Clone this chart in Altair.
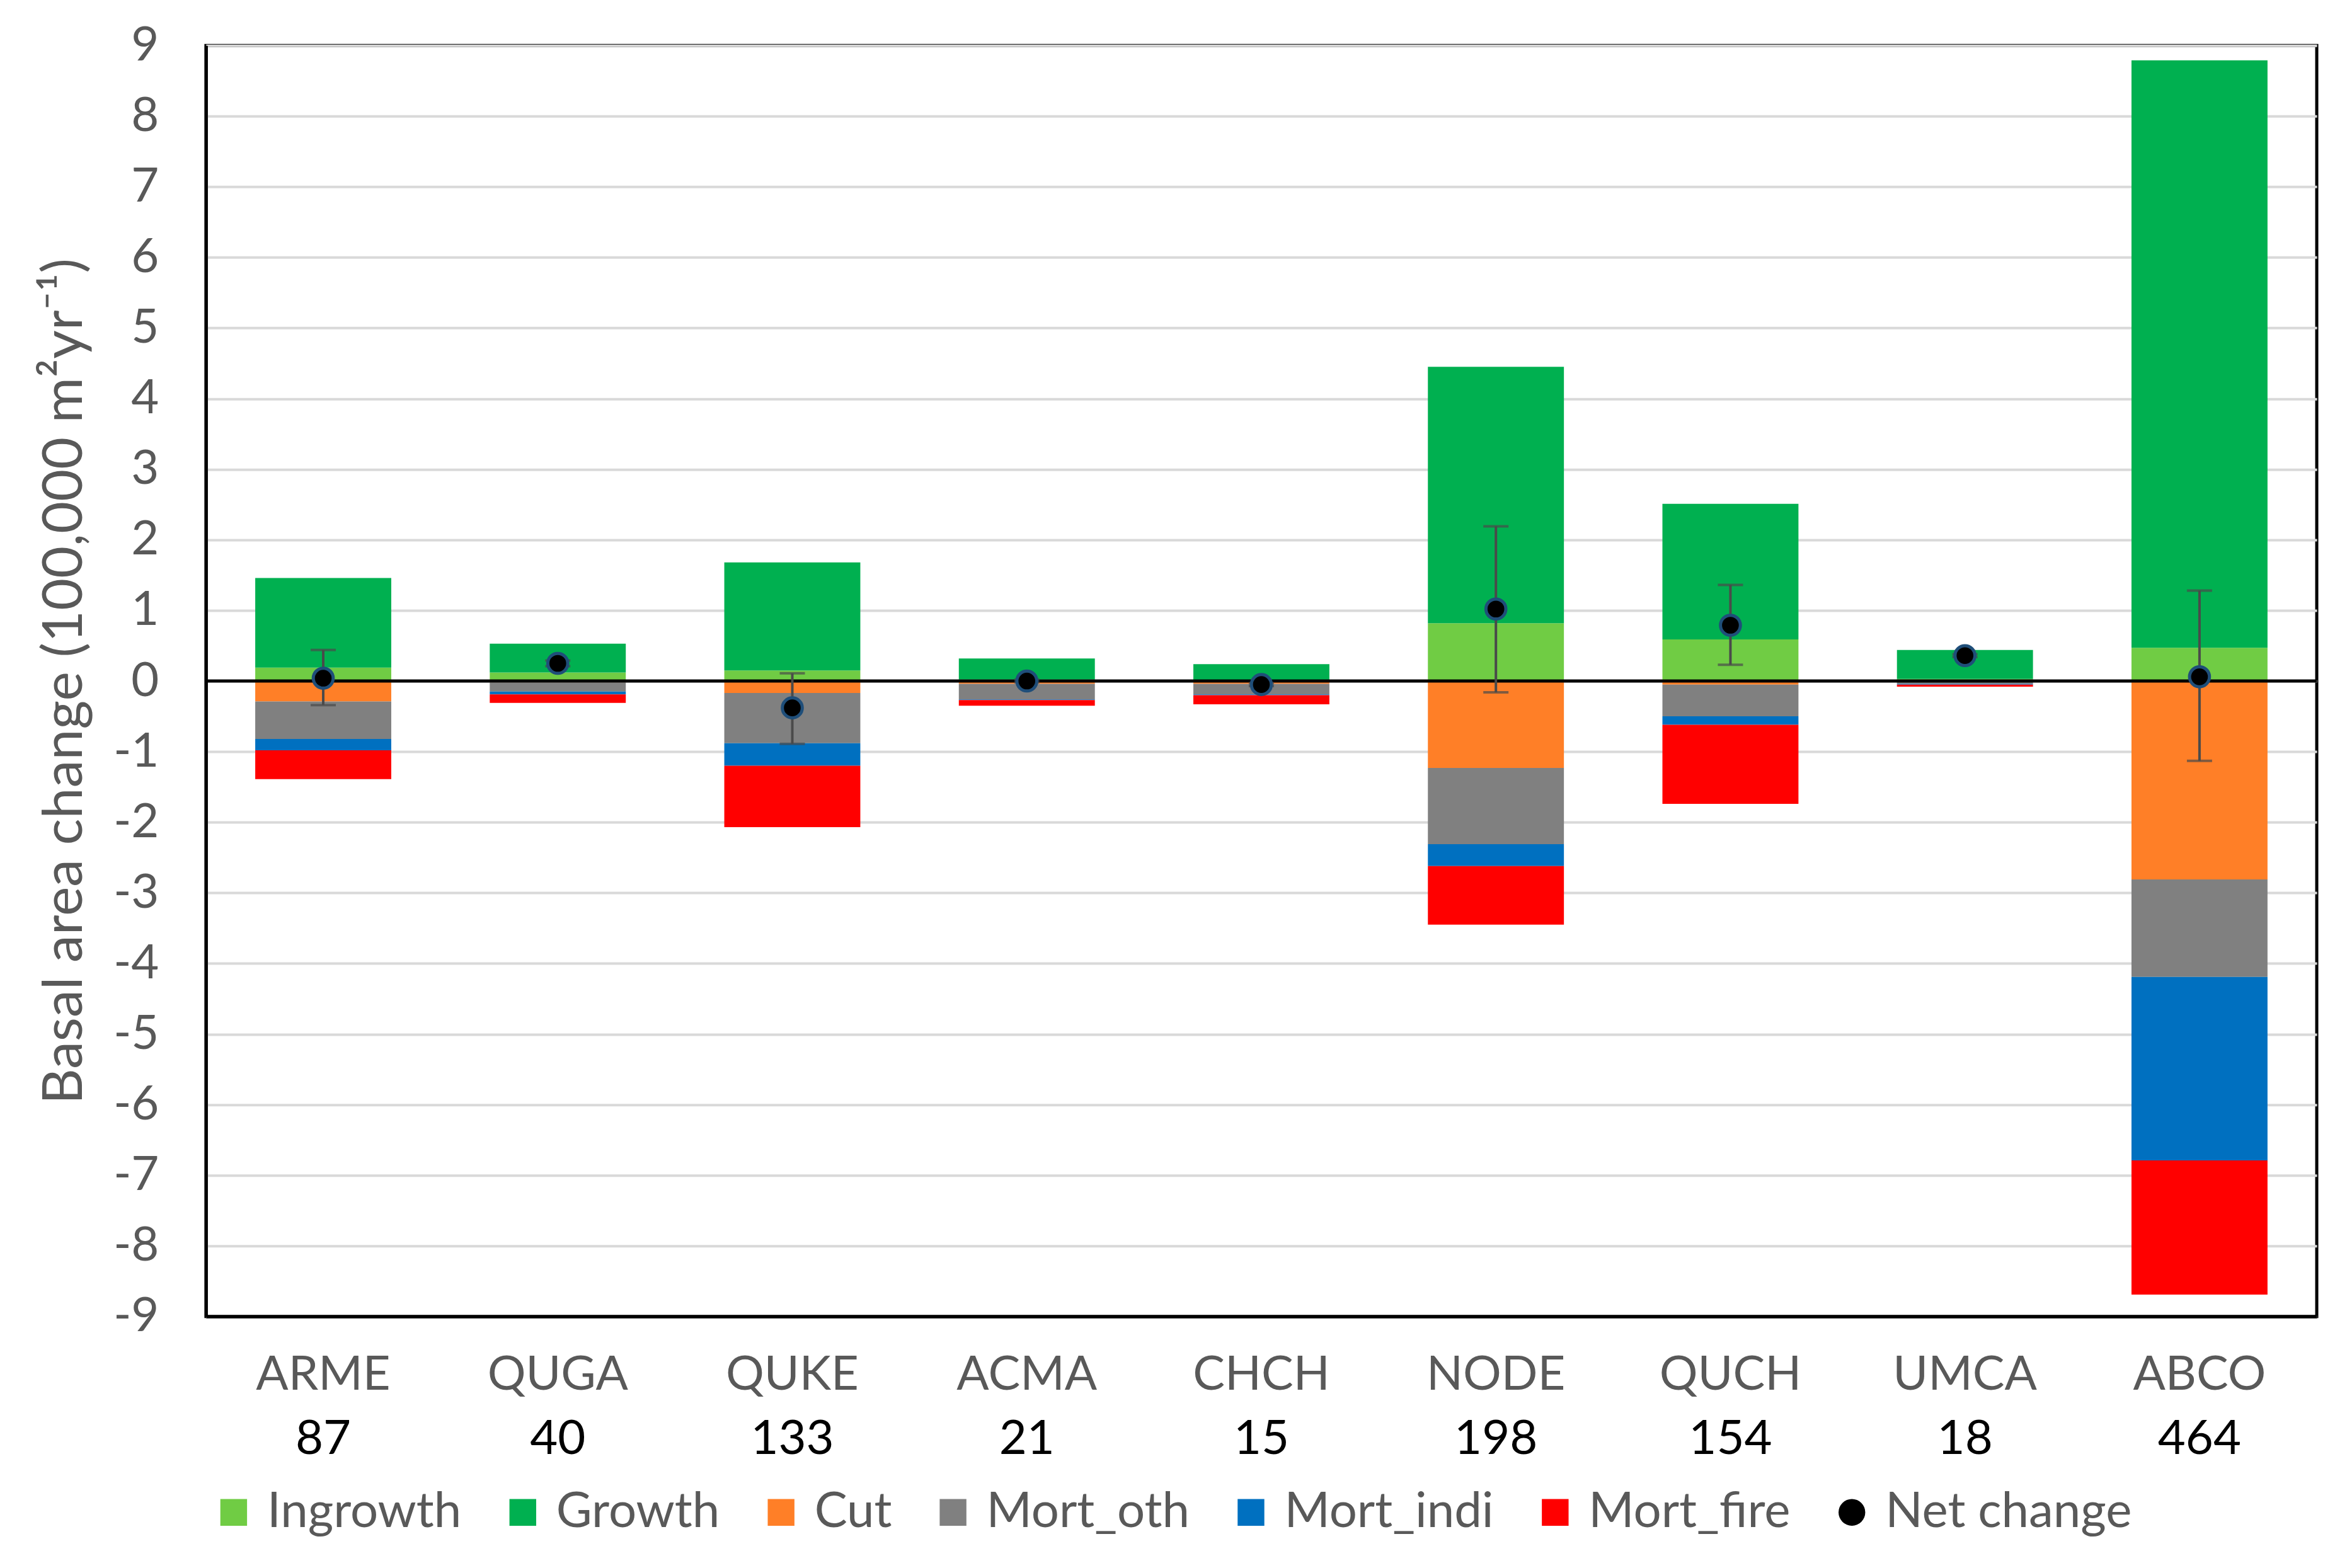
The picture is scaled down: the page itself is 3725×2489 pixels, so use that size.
import altair as alt
import pandas as pd

categories = ["ARME", "QUGA", "QUKE", "ACMA", "CHCH", "NODE", "QUCH", "UMCA", "ABCO"]
counts = ["87", "40", "133", "21", "15", "198", "154", "18", "464"]

ingrowth = [0.19, 0.12, 0.15, 0.02, 0.01, 0.82, 0.59, 0.03, 0.47]
growth = [1.27, 0.41, 1.53, 0.30, 0.23, 3.63, 1.92, 0.41, 8.32]
cut = [-0.29, -0.02, -0.17, -0.04, -0.04, -1.23, -0.05, -0.01, -2.81]
mort_oth = [-0.53, -0.13, -0.71, -0.22, -0.15, -1.08, -0.45, -0.03, -1.38]
mort_indi = [-0.16, -0.04, -0.32, -0.01, -0.01, -0.31, -0.12, -0.01, -2.60]
mort_fire = [-0.41, -0.12, -0.87, -0.08, -0.13, -0.83, -1.12, -0.03, -1.90]

net_change = [0.04, 0.25, -0.38, 0.00, -0.05, 1.02, 0.79, 0.36, 0.06]
err_hi = [0.44, 0.29, 0.11, 0.02, -0.03, 2.19, 1.36, 0.38, 1.28]
err_lo = [-0.34, 0.21, -0.89, -0.02, -0.07, -0.16, 0.23, 0.34, -1.13]

series = ["Ingrowth", "Growth", "Cut", "Mort_oth", "Mort_indi", "Mort_fire", "Net change"]
colors = ["#70CC44", "#00B050", "#FF7F27", "#808080", "#0070C0", "#FF0000", "#000000"]
shapes = ["square"] * 6 + ["circle"]

rows = []
for s_i, (name, vals) in enumerate(zip(series[:6], [ingrowth, growth, cut, mort_oth, mort_indi, mort_fire])):
    for c, v in zip(categories, vals):
        rows.append({"cat": c, "series": name, "value": v, "ord": s_i})
bars_df = pd.DataFrame(rows)

net_df = pd.DataFrame({"cat": categories, "net": net_change, "hi": err_hi, "lo": err_lo,
                       "series": ["Net change"] * len(categories)})
cnt_df = pd.DataFrame({"cat": categories, "n": counts})
zero_df = pd.DataFrame({"y": [0]})

W, H = 3351, 2018
FONT = "Lato"
GRAY = "#595959"
FS = 76

xenc = alt.X("cat:N", sort=categories, title=None,
             scale=alt.Scale(paddingInner=0.42, paddingOuter=0.21),
             axis=alt.Axis(labelAngle=0, labelFontSize=FS, labelColor=GRAY, labelFont=FONT,
                           labelPadding=56, labelLimit=0, ticks=False, domain=True,
                           domainColor="black", domainWidth=5, grid=False))
yscale = alt.Scale(domain=[-9, 9], nice=False)
yaxis = alt.Axis(values=list(range(-9, 10)), labelExpr="datum.value + ''",
                 labelFontSize=FS, labelColor=GRAY, labelFont=FONT,
                 labelPadding=75, ticks=False, domain=True, domainColor="black", domainWidth=5,
                 gridColor="#D9D9D9", gridWidth=4,
                 title="Basal area change (100,000 m²yr⁻¹)", titleFontSize=88, titleColor=GRAY,
                 titleFont=FONT, titleFontWeight="normal", titlePadding=32)

legend = alt.Legend(orient="none", legendX=5, legendY=2290, direction="horizontal", title=None,
                    labelFontSize=78, labelColor=GRAY, labelFont=FONT, labelLimit=0,
                    symbolSize=1800, columnPadding=58, labelOffset=14, symbolStrokeWidth=0)
cscale = alt.Scale(domain=series, range=colors)

bars = alt.Chart(bars_df).mark_bar().encode(
    x=xenc,
    y=alt.Y("value:Q", scale=yscale, axis=yaxis, stack="zero"),
    color=alt.Color("series:N", scale=cscale, legend=legend),
    order=alt.Order("ord:Q", sort="ascending"),
)

zero = alt.Chart(zero_df).mark_rule(color="black", strokeWidth=5).encode(y="y:Q")

errs = alt.Chart(net_df).mark_rule(color="#4A4A4A", strokeWidth=4).encode(
    x=alt.X("cat:N", sort=categories), y="lo:Q", y2="hi:Q")
caps_hi = alt.Chart(net_df).mark_tick(color="#4A4A4A", thickness=4, size=40, orient="horizontal").encode(
    x=alt.X("cat:N", sort=categories), y="hi:Q")
caps_lo = alt.Chart(net_df).mark_tick(color="#4A4A4A", thickness=4, size=40, orient="horizontal").encode(
    x=alt.X("cat:N", sort=categories), y="lo:Q")

points = alt.Chart(net_df).mark_point(filled=True, size=1000, opacity=1, stroke="#1F4E79",
                                      strokeWidth=5).encode(
    x=alt.X("cat:N", sort=categories),
    y="net:Q",
    color=alt.Color("series:N", scale=cscale, legend=legend),
    shape=alt.Shape("series:N", scale=alt.Scale(domain=series, range=shapes), legend=legend),
)

numbers = alt.Chart(cnt_df).mark_text(fontSize=FS, font=FONT, color="black", baseline="middle").encode(
    x=alt.X("cat:N", sort=categories), y=alt.value(H + 195), text="n:N")

chart = alt.layer(bars, zero, errs, caps_hi, caps_lo, points, numbers).properties(
    width=W, height=H,
    background="white",
    autosize=alt.AutoSizeParams(type="none"),
    padding={"left": 319, "top": 64, "right": 40, "bottom": 390},
).configure_view(stroke="black", strokeWidth=5, strokeOpacity=1)

chart.save("out.html", embed_options={"renderer": "svg", "actions": False})
